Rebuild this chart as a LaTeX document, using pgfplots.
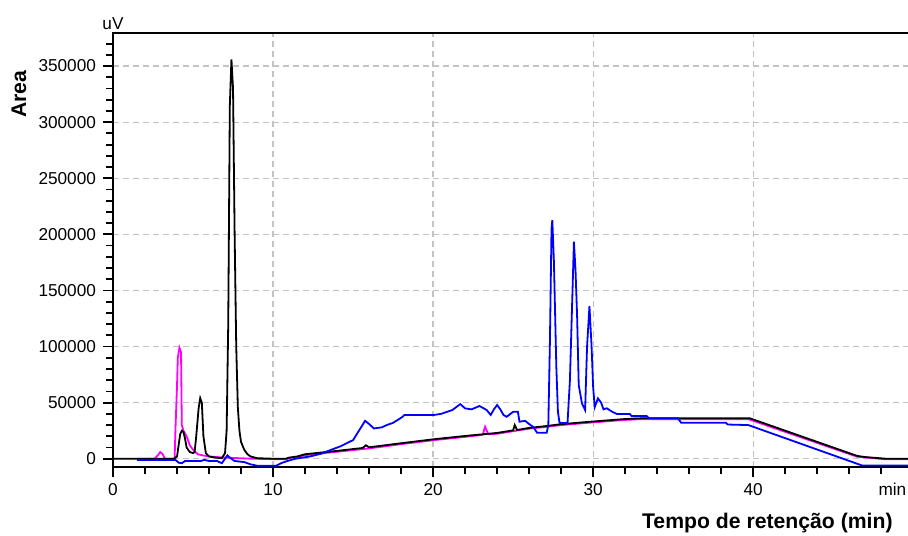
\documentclass[border=0pt]{standalone}
\usepackage{fontspec}
\setmainfont{Liberation Sans}
\usepackage{pgfplots}
\pgfplotsset{compat=1.18}
\definecolor{gridgray}{RGB}{195,195,195}
\definecolor{cmag}{RGB}{255,0,255}
\definecolor{cblue}{RGB}{0,0,255}
\begin{document}
\begin{tikzpicture}
\useasboundingbox (0,0) rectangle (454pt,267.5pt);
\begin{axis}[
  at={(56.5pt,34.15pt)}, anchor=south west,
  scale only axis, width=398.5pt, height=216.85pt,
  xmin=0, xmax=49.8, ymin=-7100, ymax=379500,
  xtick={0,10,20,30,40}, minor xtick={2,4,...,48},
  ytick={0,50000,...,350000}, minor ytick={10000,20000,...,370000},
  scaled y ticks=false,
  tick pos=left, tick align=outside,
  major tick length=5pt, minor tick length=3.5pt,
  every tick/.style={black, line width=0.9pt},
  axis line style={line width=1pt},
  grid=major,
  major grid style={gridgray, line width=0.6pt, dash pattern=on 3pt off 2pt},
  tick label style={font=\fontsize{8.6}{10}\selectfont},
  /pgf/number format/assume math mode=true,
  yticklabel style={/pgf/number format/fixed, /pgf/number format/1000 sep={}},
  clip=true,
]
% magenta
\addplot[cmag, line width=0.9pt] coordinates {
(1.5,0) (2.6,0) (2.8,3000) (2.95,6000) (3.1,4000) (3.25,0) (3.85,0) (3.9,25000) (4.0,65000) (4.05,90000) (4.15,99000) (4.25,95000) (4.3,30000) (4.4,25000) (4.6,20000) (4.8,12000) (5.0,8000) (5.3,4000) (5.6,3000) (6.0,2000) (7.0,1000) (8.7,0) (10.8,-500) (11.0,500) (11.5,1500) (12,3200) (14,6200) (16,9200) (18,13000) (20,16500) (22,19500) (23.1,21300) (23.25,28500) (23.45,21800) (24,22300) (26,26800) (27,28300) (28,30000) (30,32400) (32,34600) (33,35300) (39.7,35300) (46.5,1800) (48.3,-500) (49.8,-500)
};
% black
\addplot[black, line width=0.9pt] coordinates {
(0,0) (3.8,0) (4.0,2000) (4.1,12000) (4.2,22000) (4.3,25000) (4.4,24000) (4.5,18000) (4.6,10000) (4.8,6000) (5.0,5000) (5.1,6000) (5.2,20000) (5.35,45000) (5.45,54000) (5.55,50000) (5.65,20000) (5.8,5000) (6.0,2000) (6.4,1000) (6.8,500) (7.0,5000) (7.1,25000) (7.2,120000) (7.3,315000) (7.4,356000) (7.5,330000) (7.6,200000) (7.7,100000) (7.8,46000) (7.9,25000) (8.0,15000) (8.2,8000) (8.4,4000) (8.6,2000) (9.0,500) (10,0) (10.8,0) (11.0,1000) (11.5,2000) (12,4000) (14,7000) (15.6,9600) (15.8,12000) (16.0,10200) (18,13800) (20,17300) (22,20300) (24,23000) (25.0,25300) (25.1,30000) (25.25,25600) (26,27500) (27,29000) (28,30800) (30,33200) (32,35400) (33,36000) (39.8,36000) (46.5,2500) (47.0,1500) (48.3,0) (49.8,0)
};
% blue
\addplot[cblue, line width=0.9pt] coordinates {
(1.5,-1000) (3.9,-1000) (4.1,-3500) (4.3,-4000) (4.5,-2000) (5.5,-2000) (5.7,-1000) (6.0,-2000) (6.5,-2000) (6.8,-4000) (7.0,0) (7.15,3000) (7.3,1000) (7.6,-2000) (8.2,-3000) (8.6,-5000) (9.0,-6200) (10.2,-6200) (10.5,-4000) (10.9,-2000) (11.4,0) (12.3,2000) (13,4500) (13.6,7800) (14.2,11000) (15,16600) (15.5,28000) (15.75,33800) (16.0,31000) (16.3,27000) (16.8,28000) (17.1,30000) (17.5,32000) (18.1,37400) (18.2,38900) (20,38900) (20.5,40000) (21.2,43400) (21.7,48700) (22.0,44900) (22.4,44000) (22.9,47000) (23.35,43400) (23.6,39000) (23.8,44000) (24.0,47900) (24.2,44000) (24.4,39000) (24.6,37400) (25.0,41800) (25.3,41800) (25.4,33000) (25.75,33800) (26.0,30900) (26.25,28500) (26.5,23200) (27.1,23200) (27.2,30000) (27.3,104000) (27.4,205000) (27.45,212700) (27.55,175600) (27.7,82000) (27.8,42000) (27.9,32000) (28.4,31700) (28.55,70000) (28.8,193400) (28.9,168000) (29.0,126500) (29.1,65700) (29.3,49400) (29.5,43400) (29.62,99800) (29.77,136000) (29.9,101000) (30.0,64000) (30.1,46000) (30.3,53800) (30.5,50000) (30.65,44000) (30.85,45000) (31.2,41800) (31.5,39800) (32.3,39800) (32.4,38000) (33.35,38000) (33.5,36000) (35.3,36000) (35.5,32100) (38.3,32100) (38.4,30500) (39.7,30000) (46.8,-6000) (49.8,-6000)
};
\end{axis}
\node[anchor=base, font=\fontsize{8.6}{10}\selectfont, inner sep=0pt] at (56.5pt,252.7pt) {uV};
\node[rotate=90, font=\bfseries\fontsize{10.6}{12}\selectfont, inner sep=0pt] at (9.5pt,220.5pt) {Area};
\node[anchor=base east, font=\bfseries\fontsize{10.6}{12}\selectfont, inner sep=0pt] at (446.5pt,3.35pt) {Tempo de retenção (min)};
\node[anchor=base east, font=\fontsize{8.6}{10}\selectfont, inner sep=0pt] at (453.3pt,20pt) {min};
\end{tikzpicture}
\end{document}
